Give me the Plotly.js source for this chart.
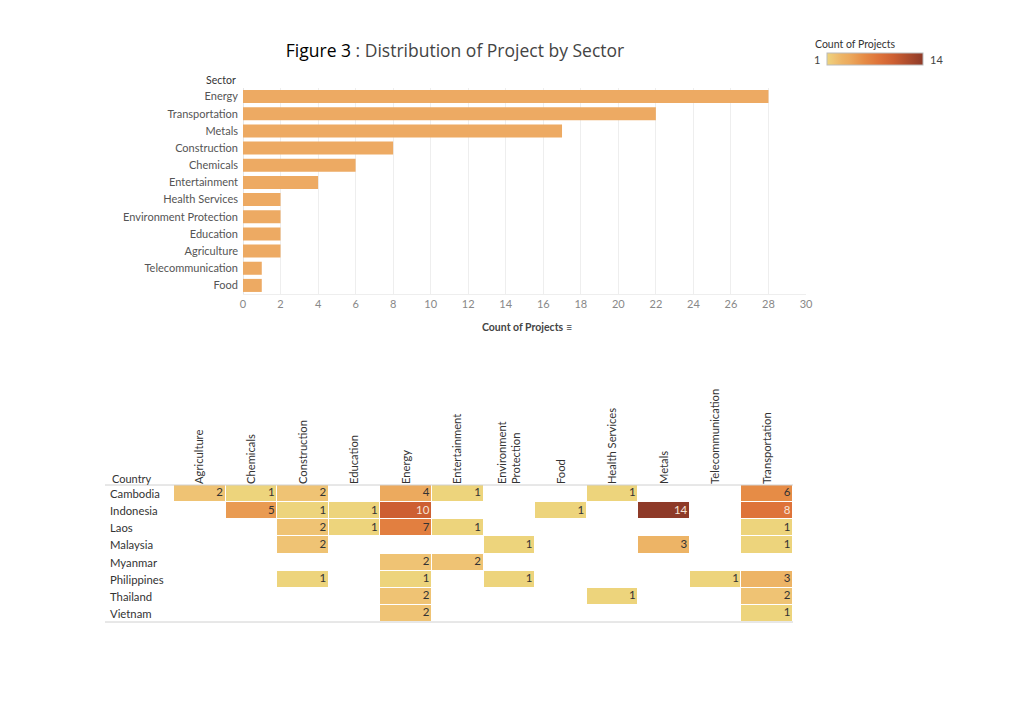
<!DOCTYPE html>
<html><head><meta charset="utf-8">
<script src="https://cdn.plot.ly/plotly-3.0.1.min.js"></script>
<style>html,body{margin:0;padding:0;background:#fff;}#chart{width:1024px;height:701px;}</style>
</head><body><div id="chart"></div>
<script>
// Bar chart data (sorted descending)
var barSectors = ["Energy","Transportation","Metals","Construction","Chemicals","Entertainment","Health Services","Environment Protection","Education","Agriculture","Telecommunication","Food"];
var barCounts = [28,22,17,8,6,4,2,2,2,2,1,1];

// Heatmap data
var countries = ["Cambodia","Indonesia","Laos","Malaysia","Myanmar","Philippines","Thailand","Vietnam"];
var sectors = ["Agriculture","Chemicals","Construction","Education","Energy","Entertainment","Environment Protection","Food","Health Services","Metals","Telecommunication","Transportation"];
var sectorLabels = ["Agriculture","Chemicals","Construction","Education","Energy","Entertainment","Environment<br>Protection","Food","Health Services","Metals","Telecommunication","Transportation"];
var cambodia    = [2,1,2,null,4,1,null,null,1,null,null,6];
var indonesia   = [null,5,1,1,10,null,null,1,null,14,null,8];
var laos        = [null,null,2,1,7,1,null,null,null,null,null,1];
var malaysia    = [null,null,2,null,null,null,1,null,null,3,null,1];
var myanmar     = [null,null,null,null,2,2,null,null,null,null,null,null];
var philippines = [null,null,1,null,1,null,1,null,null,null,1,3];
var thailand    = [null,null,null,null,2,null,null,null,1,null,null,2];
var vietnam     = [null,null,null,null,2,null,null,null,null,null,null,1];
var matrix = [cambodia,indonesia,laos,malaysia,myanmar,philippines,thailand,vietnam];

var colorscale = [
  [0.000,'#EDD47C'],[0.077,'#EFC374'],[0.154,'#EDB466'],[0.231,'#ECAA5E'],
  [0.385,'#E68C46'],[0.538,'#DE733A'],[0.692,'#CD5F32'],[1.000,'#8E3A28']
];

var W=1024,H=701;
function px(x){return x/W;}
function py(y){return 1-y/H;}

var FONT = "Lato, 'Open Sans', sans-serif";

// cell labels
var tx=[],ty=[],tt=[],tc=[];
for (var r=0;r<countries.length;r++){
  for (var c=0;c<sectors.length;c++){
    var v=matrix[r][c];
    if (v!==null){
      tx.push(c+0.45); ty.push(countries[r]); tt.push(String(v));
      tc.push(v>=8 ? '#F6E4D6' : '#333333');
    }
  }
}
var colIdx = sectors.map(function(s,i){return i;});

var traces = [
  {type:'bar', orientation:'h', x:barCounts, y:barSectors, xaxis:'x', yaxis:'y',
   marker:{color:'#EDAA63'}, width:0.76, hoverinfo:'x+y', showlegend:false},
  {type:'heatmap', z:matrix, x:colIdx, y:countries, xaxis:'x2', yaxis:'y2',
   zmin:1, zmax:14, colorscale:colorscale, xgap:1, ygap:1, hoverongaps:false,
   colorbar:{orientation:'h', x:px(875), xanchor:'center', y:py(53), yanchor:'top',
     len:96/W, lenmode:'fraction', thickness:12, xpad:0, ypad:0,
     showticklabels:false, ticks:'', outlinewidth:1, outlinecolor:'#BBBBBB',
     title:{text:''}}},
  {type:'scatter', mode:'text', x:tx, y:ty, text:tt, xaxis:'x2', yaxis:'y2',
   textposition:'middle left', textfont:{family:FONT, size:11.5, color:tc},
   hoverinfo:'skip', showlegend:false}
];

var annotations = [
  {text:'Sector', xref:'paper', yref:'paper', x:px(238), y:py(80), xanchor:'right', yanchor:'middle',
   showarrow:false, font:{family:FONT, size:10.5, color:'#333'}},
  {text:'<b>Count of Projects</b> \u2261', xref:'paper', yref:'paper', x:px(527), y:py(327), xanchor:'center', yanchor:'middle',
   showarrow:false, font:{family:FONT, size:10.5, color:'#444'}},
  {text:'Country', xref:'paper', yref:'paper', x:px(110), y:py(478), xanchor:'left', yanchor:'middle',
   showarrow:false, font:{family:FONT, size:11, color:'#333'}},
  {text:'Count of Projects', xref:'paper', yref:'paper', x:px(855), y:py(44), xanchor:'center', yanchor:'middle',
   showarrow:false, font:{family:FONT, size:10.5, color:'#333'}},
  {text:'1', xref:'paper', yref:'paper', x:px(822), y:py(60), xanchor:'right', yanchor:'middle',
   showarrow:false, font:{family:FONT, size:11, color:'#444'}},
  {text:'14', xref:'paper', yref:'paper', x:px(928), y:py(60), xanchor:'left', yanchor:'middle',
   showarrow:false, font:{family:FONT, size:11, color:'#444'}}
];
countries.forEach(function(c){
  annotations.push({text:c, xref:'paper', yref:'y2', x:px(108), y:c, xanchor:'left', yanchor:'middle',
    showarrow:false, font:{family:FONT, size:11.3, color:'#333'}});
});

var layout = {
  width:W, height:H, margin:{l:0,r:0,t:0,b:0}, paper_bgcolor:'#fff', plot_bgcolor:'#fff',
  font:{family:FONT},
  title:{text:'<span style="color:#000">Figure 3</span> : Distribution of Project by Sector',
    x:px(455), xanchor:'center', y:py(51), yanchor:'middle', yref:'paper',
    font:{family:"'Open Sans', Lato, sans-serif", size:17.5, color:'#444'}},
  showlegend:false,
  xaxis:{domain:[px(243),px(806)], range:[0,30], tickvals:[0,2,4,6,8,10,12,14,16,18,20,22,24,26,28,30],
    anchor:'y', showgrid:true, gridcolor:'#EEEEEE', zeroline:true, zerolinecolor:'#E6E6E6',
    showline:true, linecolor:'#EEEEEE', ticks:'', tickfont:{family:FONT,size:11,color:'#888'},
    fixedrange:true},
  yaxis:{domain:[py(294),py(88)], type:'category', categoryorder:'array', categoryarray:barSectors,
    autorange:'reversed', anchor:'x', showgrid:false, ticks:'', ticklabelstandoff:4,
    tickfont:{family:FONT,size:11,color:'#555'}, fixedrange:true},
  xaxis2:{domain:[px(174),px(793)], range:[-0.5,11.5], tickvals:colIdx, ticktext:sectorLabels,
    side:'top', anchor:'y2', tickangle:-90, showgrid:false, zeroline:false, showline:false, ticks:'',
    tickfont:{family:FONT,size:11.2,color:'#333'}, fixedrange:true},
  yaxis2:{domain:[py(622),py(485)], type:'category', categoryorder:'array', categoryarray:countries,
    autorange:'reversed', anchor:'x2', showgrid:false, zeroline:false, showticklabels:false, ticks:'',
    fixedrange:true},
  annotations:annotations,
  shapes:[
    {type:'line', xref:'paper', yref:'paper', x0:px(105), x1:px(793), y0:py(485), y1:py(485), line:{color:'#D0D0D0', width:1}},
    {type:'line', xref:'paper', yref:'paper', x0:px(105), x1:px(793), y0:py(622), y1:py(622), line:{color:'#D0D0D0', width:1}}
  ]
};

Plotly.newPlot('chart', traces, layout, {displayModeBar:false, staticPlot:false});
</script>
</body></html>
